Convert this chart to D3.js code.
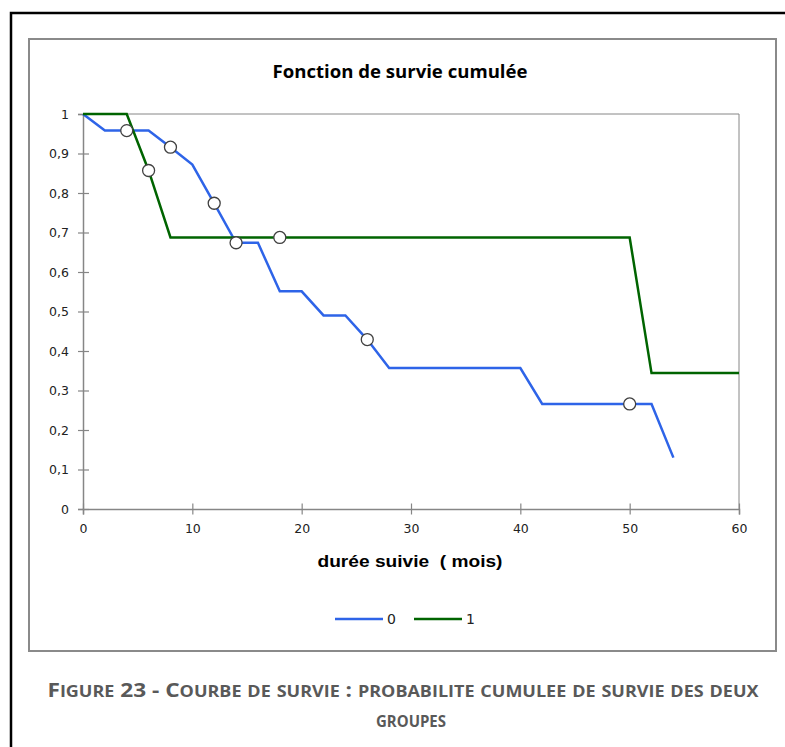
<!DOCTYPE html>
<html>
<head>
<meta charset="utf-8">
<script src="https://cdn.jsdelivr.net/npm/d3@7"></script>
<style>
    html, body { margin: 0; padding: 0; background: #fff; }
    svg { display: block; }
</style>
</head>
<body>
<svg id="viz" width="785" height="747"></svg>
<script>
// survival data
const group0Months = [0, 2, 6, 8, 10, 12, 14, 16, 18, 20, 22, 24, 26, 28, 40, 42, 52, 54];
const group0Survival = [1, 0.958, 0.958, 0.916, 0.872, 0.774, 0.674, 0.674, 0.551, 0.551, 0.49, 0.49, 0.429, 0.357, 0.357, 0.266, 0.266, 0.13];
const group1Months = [0, 4, 6, 8, 50, 52, 60];
const group1Survival = [1, 1, 0.857, 0.6875, 0.6875, 0.344, 0.344];

// censored observations (open circles)
const censorMonths = [4, 8, 12, 14, 26, 50, 6, 18];
const censorSurvival = [0.958, 0.916, 0.774, 0.674, 0.429, 0.266, 0.857, 0.6875];

const groupNames = ["0", "1"];
const groupColors = ["#2e64e8", "#006400"];
const xTicks = [0, 10, 20, 30, 40, 50, 60];
const yTicks = [0, 0.1, 0.2, 0.3, 0.4, 0.5, 0.6, 0.7, 0.8, 0.9, 1];

const TITLE = "Fonction de survie cumulée";
const X_LABEL = "durée suivie  ( mois)";
const CAPTION_1 = "Figure 23 - Courbe de survie : probabilite cumulee de survie des deux";
const CAPTION_2 = "groupes";

const plot = { left: 83, right: 739, top: 114, bottom: 509 };
const AXIS_COLOR = "#868686";
const TICK_FONT = "'DejaVu Sans', Verdana, sans-serif";

const svg = d3.select("#viz");

// outer page box and chart frame
svg.append("rect")
    .attr("x", 11).attr("y", 13)
    .attr("width", 820).attr("height", 800)
    .attr("fill", "none").attr("stroke", "#000").attr("stroke-width", 2.5);

svg.append("rect")
    .attr("x", 29).attr("y", 39)
    .attr("width", 747).attr("height", 612)
    .attr("fill", "#fff").attr("stroke", "#8a8a8a").attr("stroke-width", 2);

const x = d3.scaleLinear().domain([0, 60]).range([plot.left, plot.right]);
const y = d3.scaleLinear().domain([0, 1]).range([plot.bottom, plot.top]);

const fmt = d3.formatLocale({ decimal: ",", thousands: " ", grouping: [3], currency: ["", "€"] }).format("~g");

// plot area border (top + right)
svg.append("path")
    .attr("d", `M${plot.left},${plot.top}H${plot.right}V${plot.bottom}`)
    .attr("fill", "none").attr("stroke", AXIS_COLOR).attr("stroke-width", 1);

// axes, with ticks crossing the axis line like Excel
const xAxis = svg.append("g")
    .attr("transform", `translate(0,${plot.bottom})`)
    .call(d3.axisBottom(x).tickValues(xTicks).tickSize(5.5).tickPadding(10).tickFormat(fmt));

const yAxis = svg.append("g")
    .attr("transform", `translate(${plot.left},0)`)
    .call(d3.axisLeft(y).tickValues(yTicks).tickSize(5).tickPadding(9).tickFormat(fmt));

[xAxis, yAxis].forEach(g => {
    g.select(".domain").attr("stroke", AXIS_COLOR).attr("stroke-width", 1.5);
    g.selectAll(".tick line").attr("stroke", AXIS_COLOR).attr("stroke-width", 1.2);
    g.selectAll(".tick text")
        .attr("fill", "#222")
        .style("font-family", TICK_FONT)
        .style("font-size", "12.5px");
});
xAxis.selectAll(".tick line").attr("y1", -5.5);
yAxis.selectAll(".tick line").attr("x1", 6);

// survival curves
const line = d3.line().x(d => x(d[0])).y(d => y(d[1]));
const series = [
    d3.zip(group0Months, group0Survival),
    d3.zip(group1Months, group1Survival)
];

svg.selectAll(".curve")
    .data(series)
    .join("path")
    .attr("class", "curve")
    .attr("d", line)
    .attr("fill", "none")
    .attr("stroke", (d, i) => groupColors[i])
    .attr("stroke-width", 2.5)
    .attr("stroke-linejoin", "miter");

svg.selectAll(".censor")
    .data(d3.zip(censorMonths, censorSurvival))
    .join("circle")
    .attr("class", "censor")
    .attr("cx", d => x(d[0]))
    .attr("cy", d => y(d[1]))
    .attr("r", 6)
    .attr("fill", "#fff")
    .attr("stroke", "#404040")
    .attr("stroke-width", 1.3);

// titles
svg.append("text")
    .attr("x", 400).attr("y", 78)
    .attr("text-anchor", "middle")
    .attr("textLength", 255).attr("lengthAdjust", "spacingAndGlyphs")
    .style("font-family", "'Open Sans', sans-serif")
    .style("font-weight", "bold")
    .style("font-size", "18px")
    .attr("fill", "#000")
    .text(TITLE);

svg.append("text")
    .attr("x", 410).attr("y", 567)
    .attr("text-anchor", "middle")
    .attr("textLength", 185).attr("lengthAdjust", "spacingAndGlyphs")
    .style("font-family", "'Liberation Sans', Arial, sans-serif")
    .style("font-weight", "bold")
    .style("font-size", "17px")
    .style("white-space", "pre")
    .attr("fill", "#000")
    .text(X_LABEL);

// legend
const legend = svg.append("g").attr("transform", "translate(335,619)");
const legendX = [0, 79];
groupNames.forEach((name, i) => {
    const g = legend.append("g").attr("transform", `translate(${legendX[i]},0)`);
    g.append("line")
        .attr("x1", 0).attr("x2", 48)
        .attr("stroke", groupColors[i]).attr("stroke-width", 2.5);
    g.append("text")
        .attr("x", 52).attr("y", 5)
        .style("font-family", TICK_FONT)
        .style("font-size", "14px")
        .attr("fill", "#222")
        .text(name);
});

// figure caption: Word small caps, done by hand with tspans
// (lowercase letters become smaller capitals, the rest stays full size)
const smallCaps = (textSel, str, big, small) => {
    const runs = [];
    for (const ch of str) {
        const isSmall = ch !== ch.toUpperCase();
        const last = runs[runs.length - 1];
        if (last && last.small === isSmall) last.text += ch;
        else runs.push({ small: isSmall, text: ch });
    }
    textSel.selectAll("tspan")
        .data(runs)
        .join("tspan")
        .style("font-size", d => (d.small ? small : big) + "px")
        .text(d => d.text.toUpperCase());
};

const caption = svg.append("g")
    .style("font-family", "'Open Sans', sans-serif")
    .style("font-weight", "bold")
    .style("white-space", "pre")
    .attr("fill", "#595959");

const cap1 = caption.append("text")
    .attr("x", 403).attr("y", 697)
    .attr("text-anchor", "middle")
    .attr("textLength", 711).attr("lengthAdjust", "spacingAndGlyphs");
smallCaps(cap1, CAPTION_1, 19.5, 15.5);

const cap2 = caption.append("text")
    .attr("x", 411).attr("y", 727)
    .attr("text-anchor", "middle")
    .attr("textLength", 70).attr("lengthAdjust", "spacingAndGlyphs");
smallCaps(cap2, CAPTION_2, 19.5, 15.5);
</script>
</body>
</html>
